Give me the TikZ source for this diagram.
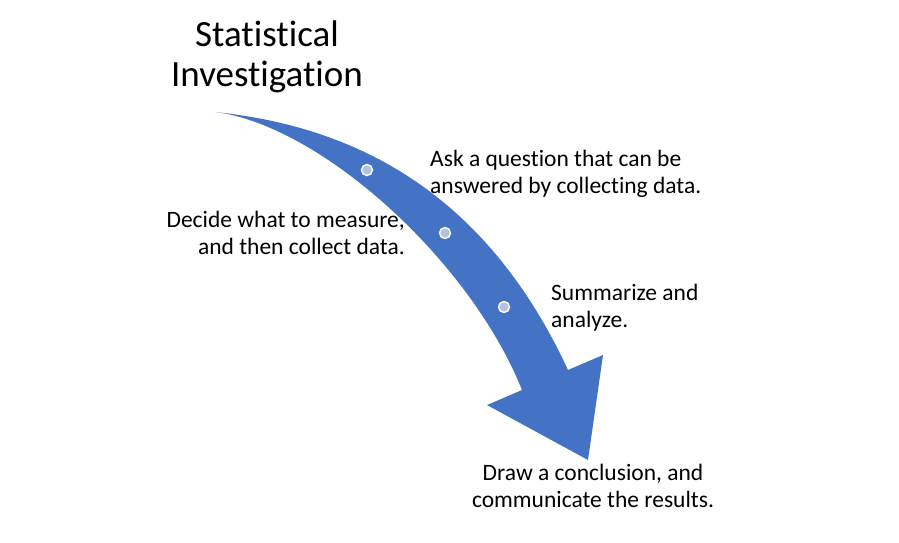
\documentclass[tikz,border=0pt]{standalone}
\usepackage{fontspec}
\setmainfont{Carlito}[Ligatures=NoCommon]
\definecolor{arrowblue}{HTML}{4472C4}
\definecolor{dotgrey}{HTML}{B4C2E2}

\begin{document}
\begin{tikzpicture}[
    x=1pt, y=-1pt,
    stepnode/.style={inner sep=0pt, font=\fontsize{23.5}{27}\selectfont},
    titlenode/.style={inner sep=0pt, align=center, font=\fontsize{37}{40}\selectfont},
    dotnode/.style={circle, fill=dotgrey, draw=white, line width=1.4pt, minimum size=11pt, inner sep=0pt},
]
    \useasboundingbox (0,0) rectangle (899,543);

    %Arrow
    \fill[arrowblue] (215,112) .. controls (340,125) and (480,180) .. (568,370)
        -- (603,355) -- (588,460) -- (487,405) -- (522,390)
        .. controls (470,260) and (320,125) .. cycle;

    %Nodes
    \node[titlenode] (title) at (267,57) {Statistical\\Investigation};
    \node[dotnode] (dot1) at (367,170) {};
    \node[dotnode] (dot2) at (445,233) {};
    \node[dotnode] (dot3) at (504,307) {};
    \node[stepnode, align=left, anchor=west] (ask) at (430,174) {Ask a question that can be\\answered by collecting data.};
    \node[stepnode, align=right, anchor=east] (decide) at (405,233) {Decide what to measure,\\and then collect data.};
    \node[stepnode, align=left, anchor=west] (summ) at (551,308) {Summarize and\\analyze.};
    \node[stepnode, align=center] (concl) at (593,486) {Draw a conclusion, and\\communicate the results.};
\end{tikzpicture}
\end{document}
